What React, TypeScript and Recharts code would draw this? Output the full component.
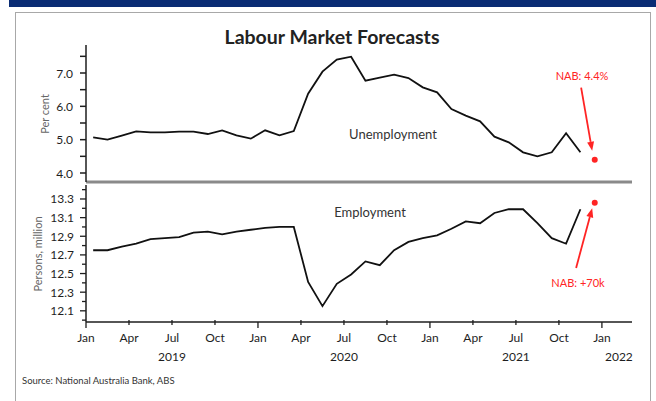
import React from 'react';
import { LineChart, Line, XAxis, YAxis, ReferenceLine, ReferenceDot } from 'recharts';

// Monthly, Jan 2019 .. Nov 2021
const unemployment = [
  5.07, 5.0, 5.12, 5.25, 5.22, 5.22, 5.24, 5.24, 5.17, 5.28, 5.13, 5.03,
  5.28, 5.13, 5.26, 6.38, 7.04, 7.4, 7.49, 6.77, 6.86, 6.95, 6.85, 6.57,
  6.42, 5.92, 5.72, 5.55, 5.09, 4.92, 4.62, 4.5, 4.62, 5.19, 4.62,
];
const employment = [
  12.75, 12.75, 12.79, 12.82, 12.87, 12.88, 12.89, 12.94, 12.95, 12.92, 12.95, 12.97,
  12.99, 13.0, 13.0, 12.41, 12.15, 12.39, 12.49, 12.63, 12.59, 12.75, 12.84, 12.88,
  12.91, 12.98, 13.06, 13.04, 13.15, 13.19, 13.19, 13.04, 12.88, 12.82, 13.19,
];
const nabUnemployment = 4.4;
const nabEmployment = 13.26;
const nabMonth = 35; // Dec 2021

const xTickValues = [0, 3, 6, 9, 12, 15, 18, 21, 24, 27, 30, 33, 36];
const xTickLabels = ['Jan', 'Apr', 'Jul', 'Oct', 'Jan', 'Apr', 'Jul', 'Oct', 'Jan', 'Apr', 'Jul', 'Oct', 'Jan'];
const yearLabels: Record<number, string> = { 6: '2019', 18: '2020', 30: '2021', 36: '2022' };

const topTicks = [4, 4.5, 5, 5.5, 6, 6.5, 7, 7.5];
const bottomTicks = [12.0, 12.1, 12.2, 12.3, 12.4, 12.5, 12.6, 12.7, 12.8, 12.9, 13.0, 13.1, 13.2, 13.3, 13.4];

const data = unemployment.map((u, i) => ({ t: i + 0.5, u, e: employment[i] }));

const X_DOMAIN: [number, number] = [0, 38.1];
const FONT = 'Lato, "Open Sans", sans-serif';
const RED = '#ff2424';
const INK = '#1e1e1e';

const TopYTick = (props: any) => {
  const { x, y, payload } = props;
  const v = payload.value as number;
  const major = Number.isInteger(v);
  return (
    <g>
      <line x1={x - 6} x2={x} y1={y} y2={y} stroke={INK} strokeWidth={1.5} />
      {major && (
        <text x={x - 13} y={y} dy={4.5} textAnchor="end" fontSize={12} fill={INK} fontFamily={FONT}>
          {v.toFixed(1)}
        </text>
      )}
    </g>
  );
};

const BottomYTick = (props: any) => {
  const { x, y, payload } = props;
  const v = payload.value as number;
  const major = Math.round(v * 10) % 2 === 1;
  return (
    <g>
      <line x1={x - (major ? 6 : 4)} x2={x} y1={y} y2={y} stroke={INK} strokeWidth={1.3} />
      {major && (
        <text x={x - 12} y={y} dy={4.5} textAnchor="end" fontSize={12} fill={INK} fontFamily={FONT}>
          {v.toFixed(1)}
        </text>
      )}
    </g>
  );
};

const XTick = (props: any) => {
  const { x, y, payload } = props;
  const v = payload.value as number;
  const isJan = v % 12 === 0;
  const year = yearLabels[v];
  const label = xTickLabels[xTickValues.indexOf(v)];
  return (
    <g>
      <line x1={x} x2={x} y1={isJan ? y : y - 2} y2={y + (isJan ? 6 : 3)} stroke={INK} strokeWidth={1.3} />
      <text x={x} y={y + 20} textAnchor="middle" fontSize={12} fill={INK} fontFamily={FONT}>
        {label}
      </text>
      {year && (
        <text x={v === 36 ? x + 17 : x} y={y + 39} textAnchor="middle" fontSize={12} fill={INK} fontFamily={FONT}>
          {year}
        </text>
      )}
    </g>
  );
};

const ArrowShape = (props: any) => {
  const { x1, y1, x2, y2 } = props;
  const ang = Math.atan2(y2 - y1, x2 - x1);
  const L = 9;
  const W = 3.5;
  const bx = x2 - L * Math.cos(ang);
  const by = y2 - L * Math.sin(ang);
  const px = -Math.sin(ang) * W;
  const py = Math.cos(ang) * W;
  return (
    <g>
      <line x1={x1} y1={y1} x2={bx} y2={by} stroke={RED} strokeWidth={1.8} />
      <polygon points={`${x2},${y2} ${bx + px},${by + py} ${bx - px},${by - py}`} fill={RED} />
    </g>
  );
};

const abs = (l: number, t: number): React.CSSProperties => ({ position: 'absolute', left: l, top: t });

export default function App() {
  return (
    <div style={{ position: 'absolute', left: 0, top: 0, width: 656, height: 401, background: '#fff', overflow: 'hidden', fontFamily: FONT }}>
      {/* header bar and frame */}
      <div style={{ ...abs(9, 0), width: 647, height: 7, background: '#0a2c74' }} />
      <div style={{ ...abs(15, 12), width: 634, height: 400, borderLeft: '1.5px solid #a8a8a8', borderTop: '1.5px solid #a8a8a8', borderRight: '1.5px solid #a8a8a8' }} />

      <div style={{ ...abs(0, 25), width: 664, textAlign: 'center', fontSize: 19.5, fontWeight: 700, color: '#222' }}>
        Labour Market Forecasts
      </div>

      {/* top panel */}
      <div style={abs(0, 0)}>
        <LineChart width={656} height={190} data={data} margin={{ top: 45, right: 24, bottom: 7, left: 46 }}>
          <XAxis
            dataKey="t"
            type="number"
            domain={X_DOMAIN}
            ticks={xTickValues}
            height={1}
            tick={false}
            tickLine={false}
            axisLine={{ stroke: '#8a8a8a', strokeWidth: 3 }}
            allowDataOverflow
          />
          <YAxis
            type="number"
            domain={[3.73, 7.84]}
            ticks={topTicks}
            interval={0}
            width={40}
            tickSize={0}
            tickMargin={0}
            tickLine={false}
            tick={<TopYTick />}
            axisLine={{ stroke: INK, strokeWidth: 1.5 }}
            allowDataOverflow
          />
          <Line dataKey="u" stroke="#111" strokeWidth={1.8} dot={false} isAnimationActive={false} />
          <ReferenceLine segment={[{ x: 34.55, y: 6.56 }, { x: 35.32, y: 4.67 }]} shape={<ArrowShape />} ifOverflow="visible" />
          <ReferenceDot x={nabMonth + 0.5} y={nabUnemployment} r={3} fill={RED} stroke="none" ifOverflow="visible" />
        </LineChart>
      </div>

      {/* bottom panel */}
      <div style={abs(0, 0)}>
        <LineChart width={656} height={401} data={data} margin={{ top: 185, right: 24, bottom: 78, left: 46 }}>
          <XAxis
            dataKey="t"
            type="number"
            domain={X_DOMAIN}
            ticks={xTickValues}
            interval={0}
            height={1}
            tickSize={0}
            tickMargin={0}
            tickLine={false}
            tick={<XTick />}
            axisLine={{ stroke: INK, strokeWidth: 1.5 }}
            allowDataOverflow
          />
          <YAxis
            type="number"
            domain={[11.98, 13.45]}
            ticks={bottomTicks}
            interval={0}
            width={40}
            tickSize={0}
            tickMargin={0}
            tickLine={false}
            tick={<BottomYTick />}
            axisLine={{ stroke: INK, strokeWidth: 1.5 }}
            allowDataOverflow
          />
          <Line dataKey="e" stroke="#111" strokeWidth={1.8} dot={false} isAnimationActive={false} />
          <ReferenceLine segment={[{ x: 34.2, y: 12.56 }, { x: 35.32, y: 13.2 }]} shape={<ArrowShape />} ifOverflow="visible" />
          <ReferenceDot x={nabMonth + 0.5} y={nabEmployment} r={3} fill={RED} stroke="none" ifOverflow="visible" />
        </LineChart>
      </div>

      {/* axis titles */}
      <div style={{ ...abs(44, 114), transform: 'translate(-50%, -50%) rotate(-90deg)', fontSize: 11, color: '#666', whiteSpace: 'nowrap' }}>
        Per cent
      </div>
      <div style={{ ...abs(37, 254), transform: 'translate(-50%, -50%) rotate(-90deg)', fontSize: 11, color: '#666', whiteSpace: 'nowrap' }}>
        Persons, million
      </div>

      {/* series labels */}
      <div style={{ ...abs(393, 134), transform: 'translate(-50%, -50%)', fontSize: 13, color: '#333', whiteSpace: 'nowrap' }}>
        Unemployment
      </div>
      <div style={{ ...abs(370, 212), transform: 'translate(-50%, -50%)', fontSize: 13, color: '#333', whiteSpace: 'nowrap' }}>
        Employment
      </div>

      {/* annotations */}
      <div style={{ ...abs(582, 75), transform: 'translate(-50%, -50%)', fontSize: 11, color: RED, whiteSpace: 'nowrap' }}>
        NAB: 4.4%
      </div>
      <div style={{ ...abs(578, 282), transform: 'translate(-50%, -50%)', fontSize: 11, color: RED, whiteSpace: 'nowrap' }}>
        NAB: +70k
      </div>

      <div style={{ ...abs(22, 375), fontSize: 9.5, color: '#333', whiteSpace: 'nowrap' }}>
        Source: National Australia Bank, ABS
      </div>
    </div>
  );
}
